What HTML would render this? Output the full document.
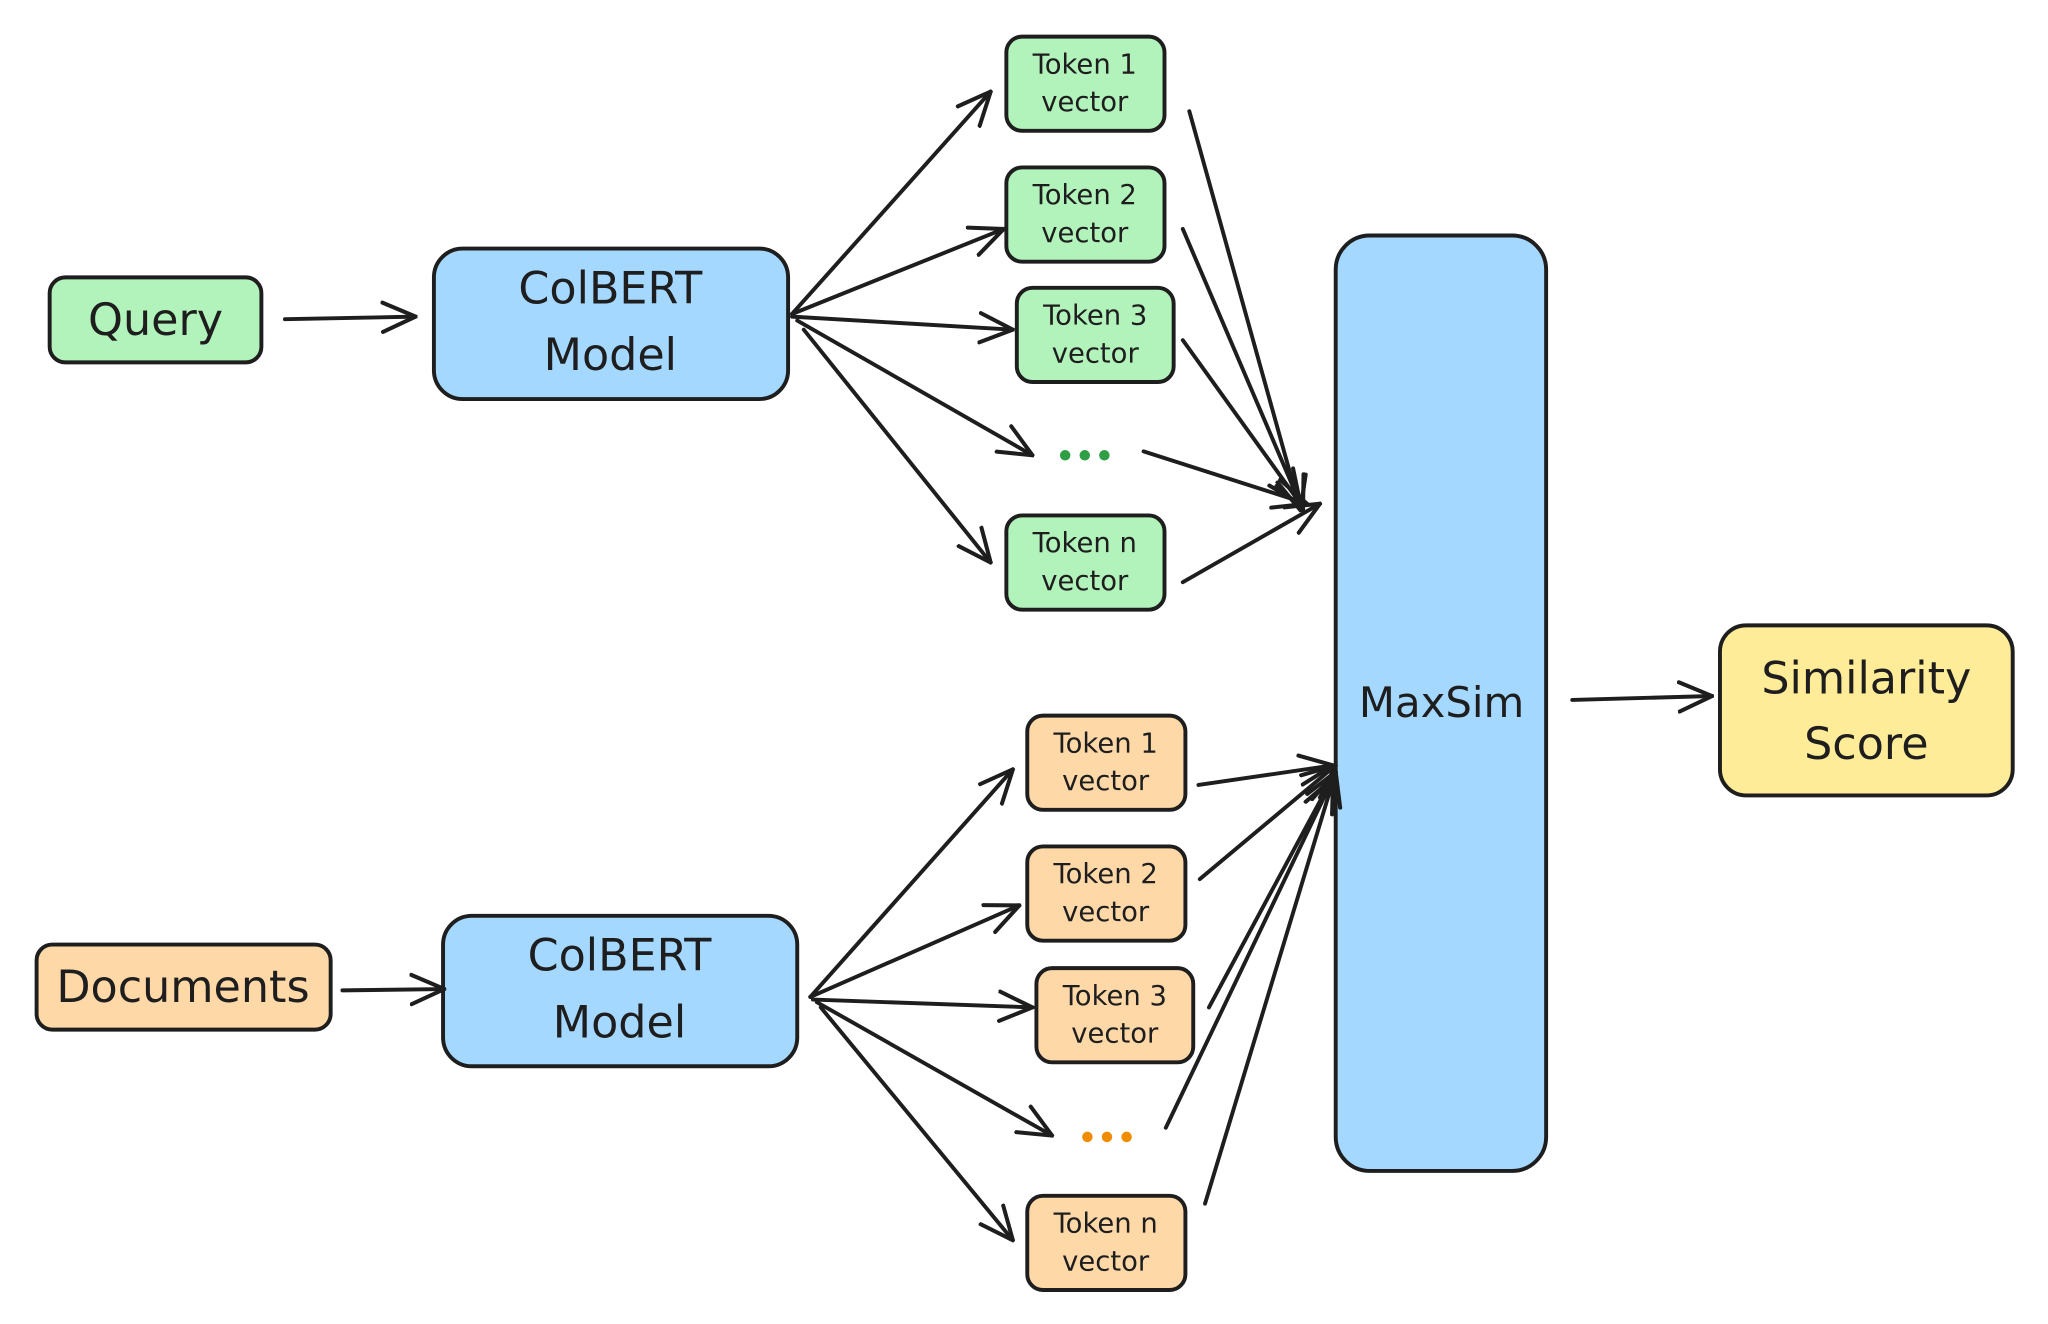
<!DOCTYPE html>
<html><head><meta charset="utf-8"><style>
html,body{margin:0;padding:0;background:#fff;}
svg{display:block}
text{font-family:"DejaVu Sans","Liberation Sans",sans-serif;fill:#1e1e1e;text-anchor:middle;}
</style></head><body>
<svg width="2048" height="1324" viewBox="0 0 1567 1012" preserveAspectRatio="none" xmlns="http://www.w3.org/2000/svg">
<defs>
<marker id="a" viewBox="0 0 20 20" refX="19" refY="10" markerWidth="28" markerHeight="28" markerUnits="userSpaceOnUse" orient="auto">
<path d="M1,2 L19,10 L1,18" fill="none" stroke="#1e1e1e" stroke-width="2.2" stroke-linecap="round"/>
</marker>
</defs>
<g stroke="#1e1e1e" stroke-width="3" stroke-linejoin="round">
<rect x="38" y="212" width="162" height="65" rx="12" fill="#b2f2bb"/>
<rect x="332" y="190" width="271" height="115" rx="22" fill="#a5d8ff"/>
<rect x="770" y="28" width="121" height="72" rx="12" fill="#b2f2bb"/>
<rect x="770" y="128" width="121" height="72" rx="12" fill="#b2f2bb"/>
<rect x="778" y="220" width="120" height="72" rx="12" fill="#b2f2bb"/>
<rect x="770" y="394" width="121" height="72" rx="12" fill="#b2f2bb"/>
<rect x="1022" y="180" width="161" height="715" rx="26" fill="#a5d8ff"/>
<rect x="1316" y="478" width="224" height="130" rx="20" fill="#ffec99"/>
<rect x="28" y="722" width="225" height="65" rx="12" fill="#ffd8a8"/>
<rect x="339" y="700" width="271" height="115" rx="22" fill="#a5d8ff"/>
<rect x="786" y="547" width="121" height="72" rx="12" fill="#ffd8a8"/>
<rect x="786" y="647" width="121" height="72" rx="12" fill="#ffd8a8"/>
<rect x="793" y="740" width="120" height="72" rx="12" fill="#ffd8a8"/>
<rect x="786" y="914" width="121" height="72" rx="12" fill="#ffd8a8"/>
</g>
<g fill="#2f9e44"><circle cx="815" cy="348" r="4"/><circle cx="830" cy="348" r="4"/><circle cx="845" cy="348" r="4"/></g>
<g fill="#f08c00"><circle cx="832" cy="869" r="4"/><circle cx="847" cy="869" r="4"/><circle cx="862" cy="869" r="4"/></g>
<g stroke="#1e1e1e" stroke-width="3" fill="none" stroke-linecap="round" marker-end="url(#a)">
<line x1="218" y1="244" x2="318" y2="242"/>
<line x1="262" y1="757" x2="340" y2="756"/>
<line x1="606" y1="240" x2="758" y2="70"/>
<line x1="606" y1="240" x2="768" y2="175"/>
<line x1="606" y1="242" x2="775" y2="252"/>
<line x1="610" y1="245" x2="790" y2="348"/>
<line x1="615" y1="252" x2="758" y2="430"/>
<line x1="910" y1="85" x2="995" y2="390"/>
<line x1="905" y1="175" x2="997" y2="390"/>
<line x1="905" y1="260" x2="995" y2="385"/>
<line x1="875" y1="345" x2="1000" y2="385"/>
<line x1="905" y1="445" x2="1010" y2="385"/>
<line x1="620" y1="762" x2="775" y2="588"/>
<line x1="620" y1="762" x2="780" y2="692"/>
<line x1="622" y1="764" x2="790" y2="770"/>
<line x1="625" y1="766" x2="805" y2="868"/>
<line x1="628" y1="770" x2="775" y2="948"/>
<line x1="917" y1="600" x2="1020" y2="585"/>
<line x1="918" y1="672" x2="1022" y2="585"/>
<line x1="925" y1="770" x2="1022" y2="590"/>
<line x1="892" y1="862" x2="1020" y2="595"/>
<line x1="922" y1="920" x2="1022" y2="590"/>
<line x1="1203" y1="535" x2="1310" y2="532"/>
</g>
<text x="119" y="256" font-size="34">Query</text>
<text x="467" y="232" font-size="34">ColBERT</text>
<text x="467" y="283" font-size="34">Model</text>
<text x="140" y="766" font-size="34">Documents</text>
<text x="474" y="742" font-size="34">ColBERT</text>
<text x="474" y="793" font-size="34">Model</text>
<text x="1103" y="548" font-size="32">MaxSim</text>
<text x="1428" y="530" font-size="34">Similarity</text>
<text x="1428" y="580" font-size="34">Score</text>
<g font-size="21">
<text x="830" y="56">Token 1</text><text x="830" y="85">vector</text>
<text x="830" y="156">Token 2</text><text x="830" y="185">vector</text>
<text x="838" y="248">Token 3</text><text x="838" y="277">vector</text>
<text x="830" y="422">Token n</text><text x="830" y="451">vector</text>
<text x="846" y="575">Token 1</text><text x="846" y="604">vector</text>
<text x="846" y="675">Token 2</text><text x="846" y="704">vector</text>
<text x="853" y="768">Token 3</text><text x="853" y="797">vector</text>
<text x="846" y="942">Token n</text><text x="846" y="971">vector</text>
</g>
</svg>
</body></html>
